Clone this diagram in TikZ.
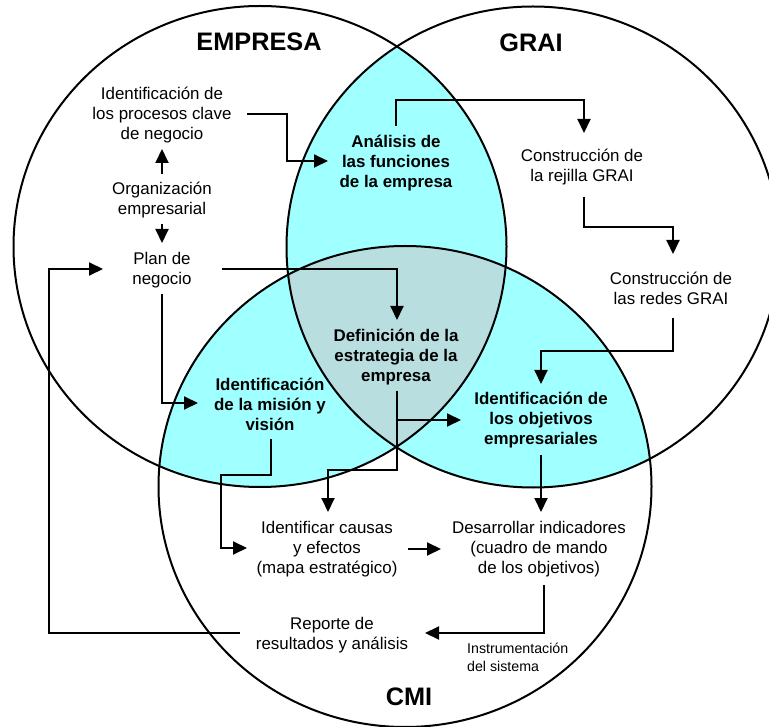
\documentclass[tikz,border=0pt]{standalone}
\usepackage{fontspec}
\setmainfont{Liberation Sans}
\usetikzlibrary{arrows.meta,calc}
\definecolor{lens}{RGB}{160,255,255}
\definecolor{core}{RGB}{184,222,224}
\tikzset{
  ring/.style={line width=2pt},
  conn/.style={line width=2pt,-{Triangle[length=14pt,width=13pt]}},
  txt/.style={align=center,inner sep=0pt,font=\fontsize{16.9}{20}\selectfont},
  btxt/.style={align=center,inner sep=0pt,font=\fontsize{16.9}{20}\selectfont\bfseries},
  title/.style={inner sep=0pt,font=\fontsize{25.3}{30}\selectfont\bfseries},
  note/.style={align=left,inner sep=0pt,font=\fontsize{14.2}{18}\selectfont}
}
\def\setE{(260,246.5) ellipse [x radius=246.5pt,y radius=240.5pt]}
\def\setG{(533,247) ellipse [x radius=246.5pt,y radius=240.5pt]}
\def\setC{(405,486.5) ellipse [x radius=246.5pt,y radius=240.5pt]}
\begin{document}
\begin{tikzpicture}[x=1pt,y=-1pt]
\useasboundingbox (0,0) rectangle (769,727);
% overlaps between the three sets
\begin{scope}\clip \setE; \fill[lens] \setG; \fill[lens] \setC; \end{scope}
\begin{scope}\clip \setG; \fill[lens] \setC; \end{scope}
\begin{scope}\clip \setE; \clip \setG; \fill[core] \setC; \end{scope}
% outlines
\draw[ring] \setE;
\draw[ring] \setG;
\draw[ring] \setC;
% set titles
\node[title] (tE) at (259,42) {EMPRESA};
\node[title] (tG) at (531,43) {GRAI};
\node[title] (tC) at (409,697) {CMI};
% steps
\node[txt] (proc) at (162,115) {Identificación de\\los procesos clave\\de negocio};
\node[txt] (org) at (162,200) {Organización\\empresarial};
\node[txt] (plan) at (162,270) {Plan de\\negocio};
\node[btxt] (anal) at (396,163) {Análisis de\\las funciones\\de la empresa};
\node[txt] (rej) at (582,167) {Construcción de\\la rejilla GRAI};
\node[txt] (redes) at (671,288) {Construcción de\\las redes GRAI};
\node[btxt] (defi) at (396,357) {Definición de la\\estrategia de la\\empresa};
\node[btxt] (mis) at (270,404) {Identificación\\de la misión y\\visión};
\node[btxt] (obj) at (541,420) {Identificación de\\los objetivos\\empresariales};
\node[txt] (caus) at (327,549) {Identificar causas\\y efectos\\(mapa estratégico)};
\node[txt] (ind) at (539,549) {Desarrollar indicadores\\(cuadro de mando\\de los objetivos)};
\node[txt] (rep) at (332,635) {Reporte de\\resultados y análisis};
\node[note,anchor=west] (instr) at (467,657) {Instrumentación\\del sistema};
% flow
\draw[conn] ($(proc)+(85,-1)$) -- ++(40,0) |- ($(anal)+(-68,-2)$);
\draw[conn] ($(org)+(0,-26)$) -- ($(proc)+(0,34)$);
\draw[conn] ($(org)+(0,24)$) -- ($(plan)+(0,-27)$);
\draw[conn] ($(plan)+(60,-1)$) -| ($(defi)+(1,-37)$);
\draw[conn] ($(plan)+(0,24)$) |- ($(mis)+(-72,-1)$);
\draw[conn] ($(anal)+(0,-37)$) -- ++(0,-26) -| ($(rej)+(2,-34)$);
\draw[conn] ($(rej)+(2,30)$) -- ++(0,30) -| ($(redes)+(2,-34)$);
\draw[conn] ($(redes)+(2,30)$) -- ++(0,33) -| ($(obj)+(0,-36)$);
\draw[conn] ($(defi)+(1,34)$) -- ++(0,79) -| ($(caus)+(1,-37)$);
\draw[conn] ($(defi)+(1,63)$) -- ($(obj)+(-80,0)$);
\draw[conn] ($(mis)+(1,35)$) -- ++(0,36) -- ++(-50,0) |- ($(caus)+(-80,-1)$);
\draw[conn] ($(caus)+(81,0)$) -- ($(ind)+(-98,0)$);
\draw[conn] ($(obj)+(0,35)$) -- ($(ind)+(2,-37)$);
\draw[conn] ($(ind)+(5,36)$) |- ($(rep)+(93,-2)$);
\draw[conn] ($(rep)+(-92,-2)$) -- ++(-191,0) |- ($(plan)+(-59,-1)$);
\end{tikzpicture}
\end{document}
